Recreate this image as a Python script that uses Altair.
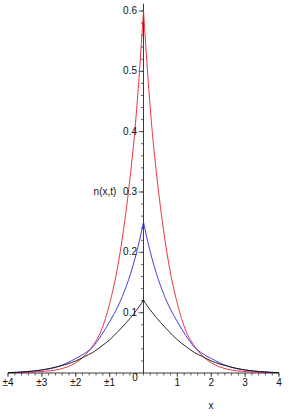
import altair as alt
import pandas as pd

# ---- data ----
x_vals = [-4, -3.5, -3, -2.5, -2, -1.75, -1.5, -1.25, -1, -0.75, -0.5, -0.375, -0.25, -0.125, 0,
          0.125, 0.25, 0.375, 0.5, 0.75, 1, 1.25, 1.5, 1.75, 2, 2.5, 3, 3.5, 4]
red_vals = [0.0003, 0.001, 0.0025, 0.006, 0.017, 0.028, 0.045, 0.07, 0.115, 0.18, 0.275, 0.335, 0.405, 0.495, 0.60,
            0.495, 0.405, 0.335, 0.275, 0.18, 0.115, 0.07, 0.045, 0.028, 0.017, 0.006, 0.0025, 0.001, 0.0003]
blue_vals = [0.0007, 0.002, 0.005, 0.011, 0.024, 0.032, 0.043, 0.062, 0.085, 0.111, 0.145, 0.166, 0.19, 0.218, 0.25,
             0.218, 0.19, 0.166, 0.145, 0.111, 0.085, 0.062, 0.043, 0.032, 0.024, 0.011, 0.005, 0.002, 0.0007]
black_vals = [0.0005, 0.002, 0.005, 0.011, 0.02, 0.027, 0.034, 0.044, 0.055, 0.069, 0.084, 0.092, 0.101, 0.11, 0.121,
              0.11, 0.101, 0.092, 0.084, 0.069, 0.055, 0.044, 0.034, 0.027, 0.02, 0.011, 0.005, 0.002, 0.0005]

x_tick_vals = [-4, -3, -2, -1, 1, 2, 3, 4]
x_tick_labels = ["±4", "±3", "±2", "±1", "1", "2", "3", "4"]
y_tick_vals = [0.1, 0.2, 0.3, 0.4, 0.5, 0.6]
y_tick_labels = ["0.1", "0.2", "0.3", "0.4", "0.5", "0.6"]

series = {"red": red_vals, "blue": blue_vals, "black": black_vals}

rows = []
for name, vals in series.items():
    for xv, yv in zip(x_vals, vals):
        if xv <= 0:
            rows.append({"x": xv, "n": yv, "s": name, "side": "L"})
        if xv >= 0:
            rows.append({"x": xv, "n": yv, "s": name, "side": "R"})
df = pd.DataFrame(rows)

xs = alt.Scale(domain=[-4, 4], nice=False, zero=False)
ys = alt.Scale(domain=[0, 0.6], nice=False, zero=False)

FONT = "Liberation Sans"
AXC = "#3a3a3a"

lines = alt.Chart(df).mark_line(strokeWidth=0.9, interpolate="monotone").encode(
    x=alt.X("x:Q", scale=xs, axis=None),
    y=alt.Y("n:Q", scale=ys, axis=None),
    color=alt.Color("s:N", scale=alt.Scale(domain=["red", "blue", "black"],
                                           range=["#e8202a", "#2a2ae0", "#111111"]), legend=None),
    detail="side:N",
)

# axis lines
xaxis = alt.Chart(pd.DataFrame({"a": [-4], "b": [4], "z": [0]})).mark_rule(color=AXC, strokeWidth=1).encode(
    x=alt.X("a:Q", scale=xs, axis=None), x2="b:Q", y=alt.Y("z:Q", scale=ys, axis=None))
yaxis = alt.Chart(pd.DataFrame({"a": [0], "b": [0.612], "z": [0]})).mark_rule(color=AXC, strokeWidth=1).encode(
    y=alt.Y("a:Q", scale=ys, axis=None), y2="b:Q", x=alt.X("z:Q", scale=xs, axis=None))

# ticks
x_minor = [round(-4 + 0.2 * i, 1) for i in range(41)]
y_minor = [round(0.02 * i, 2) for i in range(1, 31)]

xminor = alt.Chart(pd.DataFrame({"t": x_minor})).mark_rule(color=AXC, strokeWidth=0.8).encode(
    x=alt.X("t:Q", scale=xs, axis=None), y=alt.value(362), y2=alt.value(364.5))
xmajor = alt.Chart(pd.DataFrame({"t": x_tick_vals})).mark_rule(color=AXC, strokeWidth=0.8).encode(
    x=alt.X("t:Q", scale=xs, axis=None), y=alt.value(362), y2=alt.value(366))
yminor = alt.Chart(pd.DataFrame({"t": y_minor})).mark_rule(color=AXC, strokeWidth=0.8).encode(
    y=alt.Y("t:Q", scale=ys, axis=None), x=alt.value(133), x2=alt.value(135.5))
ymajor = alt.Chart(pd.DataFrame({"t": y_tick_vals})).mark_rule(color=AXC, strokeWidth=0.8).encode(
    y=alt.Y("t:Q", scale=ys, axis=None), x=alt.value(130.5), x2=alt.value(135.5))

# labels
xlab = alt.Chart(pd.DataFrame({"t": x_tick_vals, "l": x_tick_labels})).mark_text(
    font=FONT, fontSize=10, color="#111", align="center", baseline="middle").encode(
    x=alt.X("t:Q", scale=xs, axis=None), y=alt.value(371.5), text="l:N")
ylab = alt.Chart(pd.DataFrame({"t": y_tick_vals, "l": y_tick_labels, "z": [0] * 6})).mark_text(
    font=FONT, fontSize=10, color="#111", align="right", baseline="middle", dx=-6.5).encode(
    y=alt.Y("t:Q", scale=ys, axis=None), x=alt.X("z:Q", scale=xs, axis=None), text="l:N")
zero = alt.Chart(pd.DataFrame({"l": ["0"]})).mark_text(
    font=FONT, fontSize=10, color="#111", align="center", baseline="middle").encode(
    x=alt.value(127), y=alt.value(367), text="l:N")
ytitle = alt.Chart(pd.DataFrame({"l": ["n(x,t)"]})).mark_text(
    font=FONT, fontSize=10, color="#111", align="center", baseline="middle").encode(
    x=alt.value(97), y=alt.value(180.5), text="l:N")
xtitle = alt.Chart(pd.DataFrame({"l": ["x"]})).mark_text(
    font=FONT, fontSize=10, color="#111", align="center", baseline="middle").encode(
    x=alt.value(203), y=alt.value(395), text="l:N")

chart = alt.layer(
    xminor, xmajor, yminor, ymajor, xaxis, yaxis, lines, xlab, ylab, zero, ytitle, xtitle
).properties(
    width=271, height=362,
    padding={"left": 8, "top": 11, "right": 11, "bottom": 46},
    autosize="none",
    background="white",
).configure_view(stroke=None)

chart.save("out.html", embed_options={"renderer": "svg", "actions": False})
